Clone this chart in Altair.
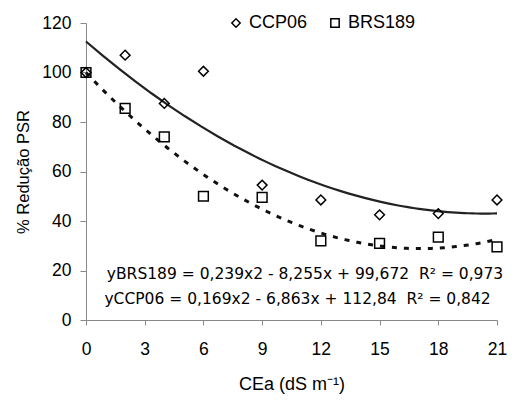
import altair as alt
import pandas as pd

cea = [0, 2, 4, 6, 9, 12, 15, 18, 21]
ccp06 = [100, 107, 87.5, 100.5, 54.5, 48.5, 42.5, 43, 48.5]
brs189 = [100, 85.5, 74, 50, 49.5, 32, 31, 33.5, 29.5]
series_names = ["CCP06", "BRS189"]
eq_text = [
    "yBRS189 = 0,239x2 - 8,255x + 99,672\u00a0\u00a0R² = 0,973",
    "yCCP06 = 0,169x2 - 6,863x + 112,84\u00a0\u00a0R² = 0,842",
]
eq_y = [18.6, 8.6]
eq_x = [11.19, 10.81]

rows = []
for name, vals in zip(series_names, [ccp06, brs189]):
    for x, v in zip(cea, vals):
        rows.append({"cea": x, "val": v, "serie": name})
df = pd.DataFrame(rows)
eq_df = pd.DataFrame({"t": eq_text, "x": eq_x, "y": eq_y})

FONT = "Liberation Sans"
xs = alt.Scale(domain=[0, 21], nice=False, zero=True)
ys = alt.Scale(domain=[0, 120], nice=False)

base = alt.Chart(df)

x_axis = alt.Axis(values=[0, 3, 6, 9, 12, 15, 18, 21], grid=False, tickSize=5, labelFlush=False,
                  labelFontSize=17.5, labelPadding=15, titleFontSize=18, titlePadding=18,
                  labelFont=FONT, titleFont=FONT, labelColor="black", titleColor="black",
                  titleFontWeight="normal", domainColor="#888", tickColor="#888")
y_axis = alt.Axis(values=[0, 20, 40, 60, 80, 100, 120], grid=False, tickSize=6, labelFlush=False,
                  labelFontSize=17.5, labelPadding=9, titleFontSize=16.5, titlePadding=10,
                  labelFont=FONT, titleFont=FONT, labelColor="black", titleColor="black",
                  titleFontWeight="normal", domainColor="#888", tickColor="#888")

ccp_fit = base.transform_filter(alt.datum.serie == "CCP06").transform_regression(
    "cea", "val", method="poly", order=2
).mark_line(color="#222", strokeWidth=2.2).encode(
    x=alt.X("cea:Q", scale=xs, axis=x_axis, title="CEa (dS m⁻¹)"),
    y=alt.Y("val:Q", scale=ys, axis=y_axis, title="% Redução PSR"),
)
brs_fit = base.transform_filter(alt.datum.serie == "BRS189").transform_regression(
    "cea", "val", method="poly", order=2
).mark_line(color="#111", strokeWidth=3, strokeDash=[5, 7]).encode(
    x=alt.X("cea:Q", scale=xs),
    y=alt.Y("val:Q", scale=ys),
)
points = base.mark_point(filled=False, color="black", strokeWidth=1.5, size=95, opacity=1).encode(
    x=alt.X("cea:Q", scale=xs),
    y=alt.Y("val:Q", scale=ys),
    shape=alt.Shape("serie:N", scale=alt.Scale(domain=series_names, range=["diamond", "square"]),
                    legend=alt.Legend(title=None, orient="none", legendX=141, legendY=-9,
                                      direction="horizontal", labelFontSize=18, labelFont=FONT,
                                      symbolSize=70, symbolStrokeWidth=1.5, symbolStrokeColor="black",
                                      symbolFillColor="transparent", columnPadding=18,
                                      labelOffset=4, labelColor="black")),
)
eqs = alt.Chart(eq_df).mark_text(fontSize=15.5, font="DejaVu Sans", color="black").encode(
    x=alt.X("x:Q", scale=xs), y=alt.Y("y:Q", scale=ys), text="t:N"
)

chart = alt.layer(ccp_fit, brs_fit, points, eqs).properties(
    width=411, height=297,
    autosize=alt.AutoSizeParams(type="none"),
    padding={"left": 78, "top": 15, "right": 10, "bottom": 78},
).configure_view(stroke=None)

chart.save("out.html", embed_options={"renderer": "svg", "actions": False})
